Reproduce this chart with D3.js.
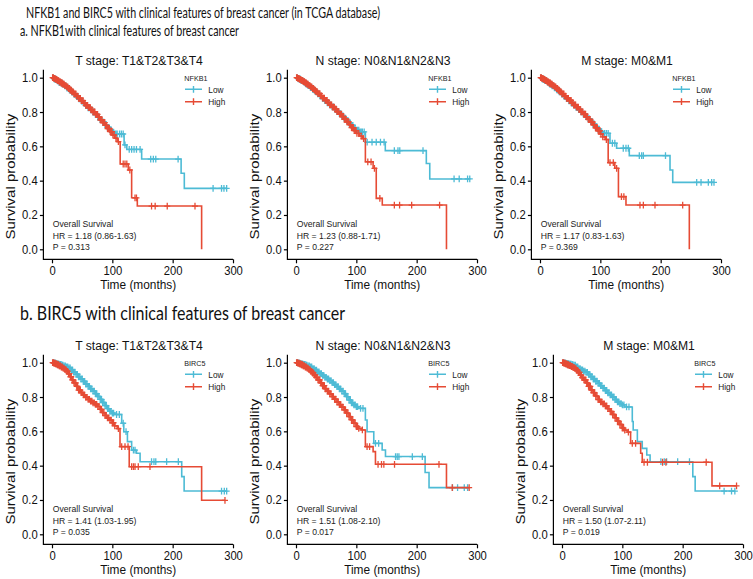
<!DOCTYPE html>
<html><head><meta charset="utf-8">
<script src="https://cdn.jsdelivr.net/npm/d3@7"></script>
<style>body{margin:0;background:#fff}</style>
</head><body><svg id="c" width="753" height="579"></svg>
<script>
// ---------------- DATA ----------------
const headerTexts = [
  "NFKB1 and BIRC5 with clinical features of breast cancer (in TCGA database)",
  "a. NFKB1with clinical features of breast cancer",
  "b. BIRC5 with clinical features of breast cancer"
];
const timeTicks = [0, 100, 200, 300];
const survTicks = [0, 0.2, 0.4, 0.6, 0.8, 1.0];
const groupNames = ["Low", "High"];
const geneNames = ["NFKB1", "NFKB1", "NFKB1", "BIRC5", "BIRC5", "BIRC5"];
const panelTitles = ["T stage: T1&T2&T3&T4", "N stage: N0&N1&N2&N3", "M stage: M0&M1",
                     "T stage: T1&T2&T3&T4", "N stage: N0&N1&N2&N3", "M stage: M0&M1"];
const statTitle = "Overall Survival";
const hrLabels = ["HR = 1.18 (0.86-1.63)", "HR = 1.23 (0.88-1.71)", "HR = 1.17 (0.83-1.63)",
                  "HR = 1.41 (1.03-1.95)", "HR = 1.51 (1.08-2.10)", "HR = 1.50 (1.07-2.11)"];
const pLabels = ["P = 0.313", "P = 0.227", "P = 0.369", "P = 0.035", "P = 0.017", "P = 0.019"];

// Kaplan-Meier steps: [time (months), survival after step]
const nfkb1T_low = [[0,1],[4,0.992],[8,0.982],[12,0.972],[16,0.962],[20,0.952],[24,0.94],[28,0.928],[32,0.916],[36,0.903],[40,0.89],[44,0.877],[48,0.864],[52,0.85],[56,0.838],[60,0.825],[64,0.812],[68,0.8],[72,0.786],[76,0.771],[80,0.756],[84,0.741],[88,0.726],[92,0.711],[96,0.696],[100,0.682],[104,0.672],[119.5,0.608],[124,0.582],[148.6,0.526],[214,0.443],[219.3,0.355]];
const nfkb1T_lowCens = [2,4,5,7,9,10,12,13,15,17,19,21,23,25,27,29,31,33,35,37,39,41,43,45,47,49,51,54,56,58,60,62,64,66,68,70,72,74,76,78,80,82,84,86,88,90,92,94,96,98,100,102,104,106,108,112,115,118,121,128,132,136,140,146,163.6,168,172,209,267,281,285,289.5];
const nfkb1T_high = [[0,1],[3,0.996],[6,0.99],[9,0.983],[12,0.976],[15,0.969],[18,0.962],[21,0.954],[24,0.946],[27,0.937],[30,0.927],[33,0.917],[36,0.906],[40,0.893],[44,0.879],[48,0.866],[52,0.852],[56,0.839],[60,0.826],[64,0.813],[68,0.8],[72,0.786],[76,0.77],[80,0.754],[84,0.738],[88,0.722],[92,0.704],[96,0.686],[100,0.666],[104,0.648],[108,0.627],[113,0.497],[126.5,0.462],[132,0.3],[141.4,0.252],[248,0]];
const nfkb1T_highCens = [1,2,3,4,5,6,7,8,9,10,11,12,13,14,15,16,17,18,19,20,21.5,23,24.5,26,27.5,29,30.5,32,33.5,35,36.5,38,39.5,41,42.5,44,45.5,47,48.5,50,51.5,53,54.5,56,57.5,59,60.5,62,63.5,65,66.5,68,69.5,71,72.5,74,75.5,77,78.5,80,81.5,83,84.5,86,87.5,89,90.5,92,93.5,95,96.5,98,99.5,101,103,106,110,118,121,124,129,137.6,140,165,171,191,237];

const nfkb1N_low = [[0,1],[4,0.993],[8,0.984],[12,0.974],[16,0.964],[20,0.954],[24,0.943],[28,0.931],[32,0.919],[36,0.906],[40,0.893],[44,0.88],[48,0.867],[52,0.854],[56,0.842],[60,0.83],[64,0.817],[68,0.804],[72,0.791],[76,0.778],[80,0.764],[84,0.75],[88,0.736],[92,0.722],[96,0.708],[100,0.695],[105,0.684],[115,0.624],[148,0.575],[216,0.5],[221.7,0.41]];
const nfkb1N_lowCens = [2,4,5,7,8,10,11,13,14,16,18,20,22,24,26,28,30,32,34,36,38,40,42,44,46,48,50,52,54,56,58,60,62,64,66,68,70,72,74,76,78,80,82,84,86,88,90,92,94,96,98,100,102,104,106,108,110,113,118,126,133,140,146,163,169,172,210.5,262,270.5,284.4,288];
const nfkb1N_high = [[0,1],[3,0.996],[6,0.99],[9,0.984],[12,0.977],[15,0.97],[18,0.962],[21,0.954],[24,0.946],[27,0.937],[30,0.928],[33,0.918],[36,0.907],[40,0.894],[44,0.881],[48,0.868],[52,0.855],[56,0.842],[60,0.829],[64,0.816],[68,0.802],[72,0.788],[76,0.773],[80,0.758],[84,0.742],[88,0.726],[92,0.709],[96,0.692],[100,0.675],[105,0.66],[110,0.645],[115,0.51],[127.8,0.472],[133,0.297],[143,0.258],[249.4,0]];
const nfkb1N_highCens = [1,2,3,4,5,6,7,8,9,10,11,12,13,14,15,16,17,18,19,20,21.5,23,24.5,26,27.5,29,30.5,32,33.5,35,36.5,38,39.5,41,42.5,44,45.5,47,48.5,50,51.5,53,54.5,56,57.5,59,60.5,62,63.5,65,66.5,68,69.5,71,72.5,74,75.5,77,78.5,80,81.5,83,84.5,86,87.5,89,90.5,92,93.5,95,96.5,98,99.5,101,104,108,112,119,124.4,130,139,163,171.7,191.7,238];

const nfkb1M_low = [[0,1],[4,0.992],[8,0.983],[12,0.973],[16,0.963],[20,0.953],[24,0.941],[28,0.929],[32,0.917],[36,0.904],[40,0.891],[44,0.878],[48,0.865],[52,0.852],[56,0.84],[60,0.827],[64,0.814],[68,0.801],[72,0.788],[76,0.774],[80,0.76],[84,0.745],[88,0.73],[92,0.715],[96,0.7],[100,0.686],[104,0.676],[116,0.618],[127,0.589],[148,0.546],[215.5,0.462],[220,0.39]];
const nfkb1M_lowCens = [2,4,5,7,8,10,11,13,14,16,18,20,22,24,26,28,30,32,34,36,38,40,42,44,46,48,50,52,54,56,58,60,62,64,66,68,70,72,74,76,78,80,82,84,86,88,90,92,94,96,98,100,102,104,107,110,113,120,124,138,142.5,146.4,164.6,168.5,171.3,208,259.7,266.9,279,284.5,288.4];
const nfkb1M_high = [[0,1],[3,0.996],[6,0.99],[9,0.983],[12,0.976],[15,0.969],[18,0.962],[21,0.954],[24,0.946],[27,0.937],[30,0.927],[33,0.917],[36,0.906],[40,0.893],[44,0.88],[48,0.867],[52,0.854],[56,0.841],[60,0.828],[64,0.815],[68,0.801],[72,0.787],[76,0.772],[80,0.757],[84,0.741],[88,0.725],[92,0.708],[96,0.69],[100,0.672],[104,0.655],[108,0.64],[113,0.505],[124,0.472],[130,0.307],[142.5,0.258],[247.5,0]];
const nfkb1M_highCens = [1,2,3,4,5,6,7,8,9,10,11,12,13,14,15,16,17,18,19,20,21.5,23,24.5,26,27.5,29,30.5,32,33.5,35,36.5,38,39.5,41,42.5,44,45.5,47,48.5,50,51.5,53,54.5,56,57.5,59,60.5,62,63.5,65,66.5,68,69.5,71,72.5,74,75.5,77,78.5,80,81.5,83,84.5,86,87.5,89,90.5,92,93.5,95,96.5,98,99.5,101,104,110,116,121.5,127,135,139,165.7,171.3,190.6,236.5];

const birc5T_low = [[0,1],[4,0.997],[8,0.993],[12,0.99],[16,0.986],[20,0.982],[24,0.976],[28,0.969],[32,0.958],[36,0.945],[40,0.932],[44,0.918],[48,0.905],[52,0.891],[56,0.876],[60,0.862],[64,0.848],[68,0.834],[72,0.82],[76,0.803],[80,0.786],[84,0.768],[88,0.75],[92,0.732],[96,0.716],[100,0.706],[104,0.698],[115.5,0.647],[119,0.598],[125,0.54],[132,0.49],[140,0.472],[146,0.423],[215,0.336],[219,0.252]];
const birc5T_lowCens = [2,3,5,6,8,9,11,12,14,15,17,18,20,22,24,26,28,30,32,34,36,38,40,42,44,46,48,50,52,54,56,58,60,62,64,66,68,70,72,74,76,78,80,82,84,86,88,90,92,94,96,98,100,102,107,111.6,118,122.7,135,137.6,165,169,172,190,209.4,281,285.6,289.5];
const birc5T_high = [[0,1],[3,0.997],[6,0.993],[9,0.988],[12,0.982],[15,0.975],[18,0.968],[21,0.96],[24,0.95],[27,0.936],[30,0.918],[33,0.9],[36,0.882],[40,0.862],[44,0.84],[48,0.826],[52,0.812],[56,0.798],[60,0.786],[64,0.776],[68,0.766],[72,0.757],[76,0.745],[80,0.728],[84,0.709],[88,0.692],[92,0.678],[96,0.665],[100,0.65],[104,0.632],[108,0.616],[112.7,0.511],[128,0.394],[248,0.198]];
const birc5T_highCens = [1,2,3,4,5,6,7,8,9,10,11,12,13,14,15.5,17,18.5,20,21.5,23,24.5,26,27.5,29,30.5,32,33.5,35,36.5,38,39.5,41,42.5,44,45.5,47,48.5,50,52,54,56,58,60,62,64,66,68,70,72,74,76,78,80,82,84,86,88,90,92,94,96,98,100,102,104,110,115.5,121,126,132,135,137.6,143,162.4,286.7];

const birc5N_low = [[0,1],[4,0.997],[8,0.993],[12,0.99],[16,0.986],[20,0.982],[24,0.975],[28,0.966],[32,0.956],[36,0.946],[40,0.936],[44,0.926],[48,0.915],[52,0.905],[56,0.895],[60,0.884],[64,0.872],[68,0.86],[72,0.847],[76,0.834],[80,0.82],[84,0.802],[88,0.782],[92,0.766],[96,0.754],[100,0.744],[104,0.734],[115,0.666],[117.8,0.598],[128.9,0.53],[142.8,0.491],[148.3,0.453],[214,0.36],[220.5,0.272]];
const birc5N_lowCens = [2,3,5,6,8,9,11,12,14,15,17,18,20,22,24,26,28,30,32,34,36,38,40,42,44,46,48,50,52,54,56,58,60,62,64,66,68,70,72,74,76,78,80,82,84,86,88,90,92,94,96,98,100,102,107,111,131.7,137,165,167.8,170.6,192.8,209.4,259.4,267.8,278.9,284.4];
const birc5N_high = [[0,1],[3,0.997],[6,0.993],[9,0.988],[12,0.982],[15,0.975],[18,0.968],[21,0.96],[24,0.95],[27,0.94],[30,0.928],[33,0.914],[36,0.9],[40,0.882],[44,0.866],[48,0.848],[52,0.834],[56,0.818],[60,0.802],[64,0.787],[68,0.771],[72,0.756],[76,0.741],[80,0.725],[84,0.706],[88,0.686],[92,0.667],[96,0.647],[100,0.627],[104,0.617],[108,0.608],[115,0.511],[127.8,0.482],[131.7,0.408],[249.4,0.272]];
const birc5N_highCens = [1,2,3,4,5,6,7,8,9,10,11,12,13,14,15.5,17,18.5,20,21.5,23,24.5,26,27.5,29,30.5,32,33.5,35,36.5,38,39.5,41,42.5,44,45.5,47,48.5,50,52,54,56,58,60,62,64,66,68,70,72,74,76,78,80,82,84,86,88,90,92,94,96,98,100,102,104,110,117.8,122,136,141.7,145.6,163.3,237,259,287];

const birc5M_low = [[0,1],[4,0.997],[8,0.994],[12,0.991],[16,0.988],[20,0.985],[24,0.976],[28,0.966],[32,0.958],[36,0.951],[40,0.944],[44,0.932],[48,0.918],[52,0.905],[56,0.892],[60,0.88],[64,0.866],[68,0.852],[72,0.838],[76,0.825],[80,0.812],[84,0.8],[88,0.785],[92,0.772],[96,0.762],[100,0.754],[104,0.742],[116.5,0.657],[118,0.608],[124.9,0.54],[133,0.501],[140.5,0.462],[146,0.423],[216.8,0.336],[220.7,0.252]];
const birc5M_lowCens = [2,3,5,6,8,9,11,12,14,15,17,18,20,22,24,26,28,30,32,34,36,38,40,42,44,46,48,50,52,54,56,58,60,62,64,66,68,70,72,74,76,78,80,82,84,86,88,90,92,94,96,98,100,102.6,107,111,163.9,169.5,173.4,191.7,211.3,268.7,281,286.5];
const birc5M_high = [[0,1],[3,0.997],[6,0.993],[9,0.988],[12,0.983],[15,0.978],[18,0.972],[21,0.965],[24,0.955],[27,0.943],[30,0.928],[33,0.913],[36,0.9],[40,0.882],[44,0.862],[48,0.841],[52,0.826],[56,0.805],[60,0.785],[64,0.772],[68,0.76],[72,0.748],[76,0.732],[80,0.716],[84,0.698],[88,0.679],[92,0.66],[96,0.64],[100,0.619],[104,0.607],[108,0.596],[113.7,0.53],[130.4,0.472],[133,0.42],[248.6,0.282]];
const birc5M_highCens = [1,2,3,4,5,6,7,8,9,10,11,12,13,14,15.5,17,18.5,20,21.5,23,24.5,26,27.5,29,30.5,32,33.5,35,36.5,38,39.5,41,42.5,44,45.5,47,48.5,50,52,54,56,58,60,62,64,66,68,70,72,74,76,78,80,82,84,86,88,90,92,94,96,98,100,102,104,110,116.5,122,136,141.6,166.7,172.2,239,261.4,289.3];

const panelCurves = [
  [[nfkb1T_low, nfkb1T_lowCens], [nfkb1T_high, nfkb1T_highCens]],
  [[nfkb1N_low, nfkb1N_lowCens], [nfkb1N_high, nfkb1N_highCens]],
  [[nfkb1M_low, nfkb1M_lowCens], [nfkb1M_high, nfkb1M_highCens]],
  [[birc5T_low, birc5T_lowCens], [birc5T_high, birc5T_highCens]],
  [[birc5N_low, birc5N_lowCens], [birc5N_high, birc5N_highCens]],
  [[birc5M_low, birc5M_lowCens], [birc5M_high, birc5M_highCens]]
];

// ---------------- LAYOUT / STYLE ----------------
const colors = ["#4DBBD5", "#E64B35"];
const layout = [
  {x0: 52, y1: 77.7}, {x0: 296, y1: 77.7}, {x0: 540, y1: 77.7},
  {x0: 52, y1: 362.7}, {x0: 296, y1: 362.7}, {x0: 562, y1: 362.7}
];
const PW = 181, PH = 171.6, SX = 0.9;
const FONT = "'Liberation Sans', Arial, Helvetica, sans-serif";

const svg = d3.select("#c");
svg.append("rect").attr("width", 753).attr("height", 579).attr("fill", "#fff");

// headers
const headerSpec = [
  {x: 26, y: 12.7, size: 15.5, len: 354},
  {x: 20, y: 31, size: 15, len: 219},
  {x: 20, y: 313.3, size: 19.5, len: 325}
];
headerTexts.forEach((t, i) => {
  const h = headerSpec[i];
  svg.append("text").attr("x", h.x).attr("y", h.y).attr("dy", "0.36em")
    .attr("font-family", "Lato, 'Open Sans', sans-serif").attr("font-size", h.size)
    .attr("fill", "#111")
    .attr("textLength", h.len).attr("lengthAdjust", "spacingAndGlyphs").text(t);
});

function txt(g, x, y, s, size, anchor, opts = {}) {
  return g.append("text")
    .attr("transform", `translate(${x},${y}) scale(${SX},1)` + (opts.rot ? " rotate(-90)" : ""))
    .attr("dy", "0.35em").attr("text-anchor", anchor || "start")
    .attr("font-family", FONT).attr("font-size", size).attr("fill", opts.fill || "#000")
    .text(s);
}

function stepValue(steps, t) {
  let s = 1;
  for (const [tt, ss] of steps) { if (tt <= t) s = ss; else break; }
  return s;
}

layout.forEach((L, pi) => {
  const g = svg.append("g");
  const x = d3.scaleLinear().domain([0, 300]).range([L.x0, L.x0 + PW]);
  const y = d3.scaleLinear().domain([0, 1]).range([L.y1 + PH, L.y1]);
  const xl = L.x0 - 8.6;
  const yb = y(0) + 10;

  // axis lines (L shape)
  g.append("path").attr("d", `M${xl},${L.y1 - 8}V${yb}H${x(300)}`)
    .attr("fill", "none").attr("stroke", "#000").attr("stroke-width", 1.2);

  // y axis ticks
  const ya = g.append("g").attr("transform", `translate(${xl},0)`)
    .call(d3.axisLeft(y).tickValues(survTicks).tickFormat(d3.format(".1f")).tickSize(3.5).tickPadding(2.8));
  ya.select(".domain").remove();
  ya.selectAll("line").attr("stroke", "#000").attr("stroke-width", 1.2);
  ya.selectAll("text").attr("font-family", FONT).attr("font-size", 12.5).attr("fill", "#111")
    .attr("transform", `scale(${SX},1)`);

  // x axis ticks
  const xa = g.append("g").attr("transform", `translate(0,${yb})`)
    .call(d3.axisBottom(x).tickValues(timeTicks).tickSize(4).tickPadding(3));
  xa.select(".domain").remove();
  xa.selectAll("line").attr("stroke", "#000").attr("stroke-width", 1.2);
  xa.selectAll("text").attr("font-family", FONT).attr("font-size", 12.5).attr("fill", "#111")
    .attr("transform", `scale(${SX},1)`);

  // titles
  txt(g, L.x0 + 87, L.y1 - 17.3, panelTitles[pi], 13.5, "middle", {fill: "#111"});
  txt(g, (xl + x(300)) / 2, L.y1 + 206.8, "Time (months)", 13.2, "middle", {fill: "#111"});
  txt(g, xl - 33.5, L.y1 + 99, "Survival probability", 15, "middle", {rot: true, fill: "#111"});

  // stats
  txt(g, L.x0 + 0.7, L.y1 + 146, statTitle, 9.6, "start", {fill: "#222"});
  txt(g, L.x0 + 0.7, L.y1 + 157.5, hrLabels[pi], 9.6, "start", {fill: "#222"});
  txt(g, L.x0 + 0.7, L.y1 + 168.5, pLabels[pi], 9.6, "start", {fill: "#222"});

  // curves
  const line = d3.line().x(d => x(d[0])).y(d => y(d[1])).curve(d3.curveStepAfter);
  panelCurves[pi].forEach(([steps, cens], gi) => {
    const last = steps[steps.length - 1];
    const end = Math.max(last[0], d3.max(cens));
    const pts = steps.concat([[end, last[1]]]);
    g.append("path").attr("d", line(pts)).attr("fill", "none")
      .attr("stroke", colors[gi]).attr("stroke-width", 1.6);
    g.append("g").selectAll("path").data(cens).join("path")
      .attr("d", c => {
        const cx = x(c), cy = y(stepValue(steps, c));
        return `M${cx - 3},${cy}H${cx + 3}M${cx},${cy - 3.4}V${cy + 3.4}`;
      })
      .attr("stroke", colors[gi]).attr("stroke-width", 1.3).attr("fill", "none");
  });

  // legend
  txt(g, L.x0 + 132.3, L.y1, geneNames[pi], 8, "start", {fill: "#222"});
  groupNames.forEach((name, gi) => {
    const ly = L.y1 + 11.6 + gi * 12.4;
    const lx0 = L.x0 + 133, lx1 = L.x0 + 150;
    const lm = (lx0 + lx1) / 2;
    g.append("path").attr("d", `M${lx0},${ly}H${lx1}M${lm},${ly - 3.4}V${ly + 3.4}`)
      .attr("stroke", colors[gi]).attr("stroke-width", 1.4).attr("fill", "none");
    txt(g, L.x0 + 156.3, ly, name, 9.2, "start", {fill: "#222"});
  });
});
</script>
</body></html>
